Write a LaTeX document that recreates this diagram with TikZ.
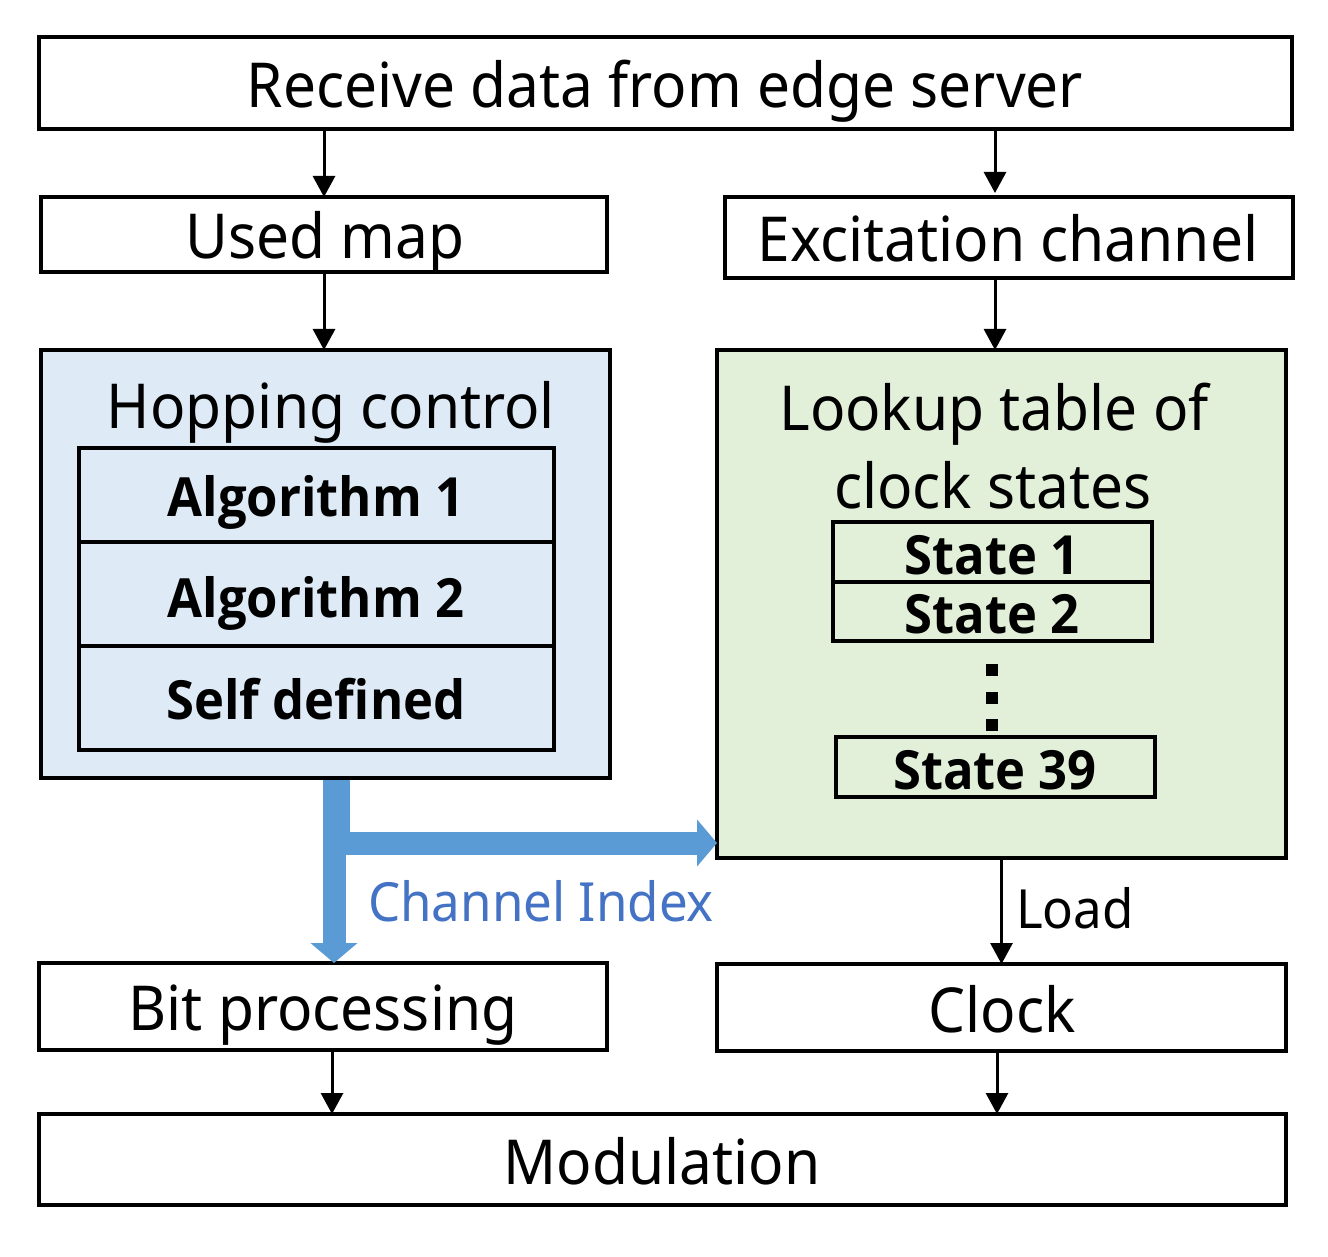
\documentclass[tikz,border=0pt]{standalone}
\usepackage{fontspec}
\setmainfont{Noto Sans}[FakeStretch=0.945]
\newfontfamily\boldf{Open Sans}[FakeStretch=0.94]
\usetikzlibrary{arrows.meta,calc}
\definecolor{hopfill}{HTML}{DEEBF7}
\definecolor{lookfill}{HTML}{E2F0D9}
\definecolor{bluearrow}{HTML}{5B9BD5}
\definecolor{bluetext}{HTML}{4472C4}
\newcommand{\fsA}{\fontsize{62pt}{70pt}\selectfont}
\newcommand{\fsB}{\boldf\bfseries\fontsize{54pt}{60pt}\selectfont}
\newcommand{\fsC}{\fontsize{54pt}{60pt}\selectfont}
\begin{document}
\begin{tikzpicture}[x=1pt,y=-1pt,
  box/.style={draw=black,line width=3.5pt,inner sep=0,outer sep=0},
  lbl/.style={inner sep=0,outer sep=0,anchor=base},
  arr/.style={line width=3pt,-{Triangle[length=21pt,width=22pt]}},
  bigarr/.style={draw=bluearrow,line width=23pt,-{Triangle[length=20pt,width=46pt]}}]
\useasboundingbox (0,0) rectangle (1328,1257);
% boxes
\node[box,minimum width=1253pt,minimum height=92pt] (top) at (665.5,83) {};
\node[box,minimum width=566pt,minimum height=75pt] (used) at (324,234.5) {};
\node[box,minimum width=568pt,minimum height=81pt] (exc) at (1009,237.5) {};
\node[box,fill=hopfill,minimum width=569pt,minimum height=428pt] (hop) at (325.5,564) {};
\node[box,minimum width=475pt,minimum height=94pt] (alg1) at (316.5,495) {};
\node[box,minimum width=475pt,minimum height=104pt] (alg2) at (316.5,594) {};
\node[box,minimum width=475pt,minimum height=104pt] (self) at (316.5,698) {};
\node[box,fill=lookfill,minimum width=569pt,minimum height=508pt] (look) at (1001.5,604) {};
\node[box,minimum width=319pt,minimum height=60pt] (s1) at (992.5,552) {};
\node[box,minimum width=319pt,minimum height=59pt] (s2) at (992.5,611.5) {};
\node[box,minimum width=319pt,minimum height=60pt] (s39) at (995.5,767) {};
\node[box,minimum width=568pt,minimum height=87pt] (bit) at (323,1006.5) {};
\node[box,minimum width=569pt,minimum height=87pt] (clock) at (1001.5,1007.5) {};
\node[box,minimum width=1247pt,minimum height=91pt] (mod) at (662.5,1159.5) {};
% dots
\fill (986,664) rectangle (998,676);
\fill (986,692) rectangle (998,704);
\fill (986,719) rectangle (998,731);
% texts
\node[lbl] (ttop) at (665,108) {\fsA Receive data from edge server};
\node[lbl] (tused) at (325,259) {\fsA Used map};
\node[lbl] (texc) at (1008,262) {\fsA Excitation channel};
\node[lbl] (thop) at (331,428) {\fsA Hopping control};
\node[lbl] (talg1) at (316,516) {\fsB Algorithm 1};
\node[lbl] (talg2) at (316,617) {\fsB Algorithm 2};
\node[lbl] (tself) at (316,719) {\fsB Self defined};
\node[lbl] (tlook1) at (994,430) {\fsA Lookup table of};
\node[lbl] (tlook2) at (993,508) {\fsA clock states};
\node[lbl] (ts1) at (992,574) {\fsB State 1};
\node[lbl] (ts2) at (992,633) {\fsB State 2};
\node[lbl] (ts39) at (995,789) {\fsB State 39};
\node[lbl,text=bluetext] (tci) at (541,921) {\fsC Channel Index};
\node[lbl] (tload) at (1075,928) {\fsC Load};
\node[lbl] (tbit) at (323,1030) {\fsA Bit processing};
\node[lbl] (tclock) at (1002,1032) {\fsA Clock};
\node[lbl] (tmod) at (662,1184) {\fsA Modulation};
% arrow anchor points
\coordinate (a2s) at (995,129);
\coordinate (a2e) at (995,193);
\coordinate (a4s) at (995,278);
\coordinate (a4e) at (995,350);
\coordinate (a6s) at (332,1050);
\coordinate (a6e) at (332,1114);
\coordinate (a7s) at (997,1051);
\coordinate (a7e) at (997,1114);
% arrows
\draw[arr] (used.north |- top.south) -- (used.north);
\draw[arr] (a2s) -- (a2e);
\draw[arr] (used.south) -- (hop.north -| used.south);
\draw[arr] (a4s) -- (a4e);
\draw[arr] (look.south) -- (clock.north);
\draw[arr] (a6s) -- (a6e);
\draw[arr] (a7s) -- (a7e);
% blue elbow arrows
\coordinate (b0) at (338,780);
\coordinate (b1) at (338,843);
\coordinate (b2) at (717,843);
\coordinate (c0) at (334,780);
\coordinate (c1) at (334,963);
\draw[bigarr] (b0) -- (b1) -- (b2);
\draw[bigarr] (c0) -- (c1);
\end{tikzpicture}
\end{document}
